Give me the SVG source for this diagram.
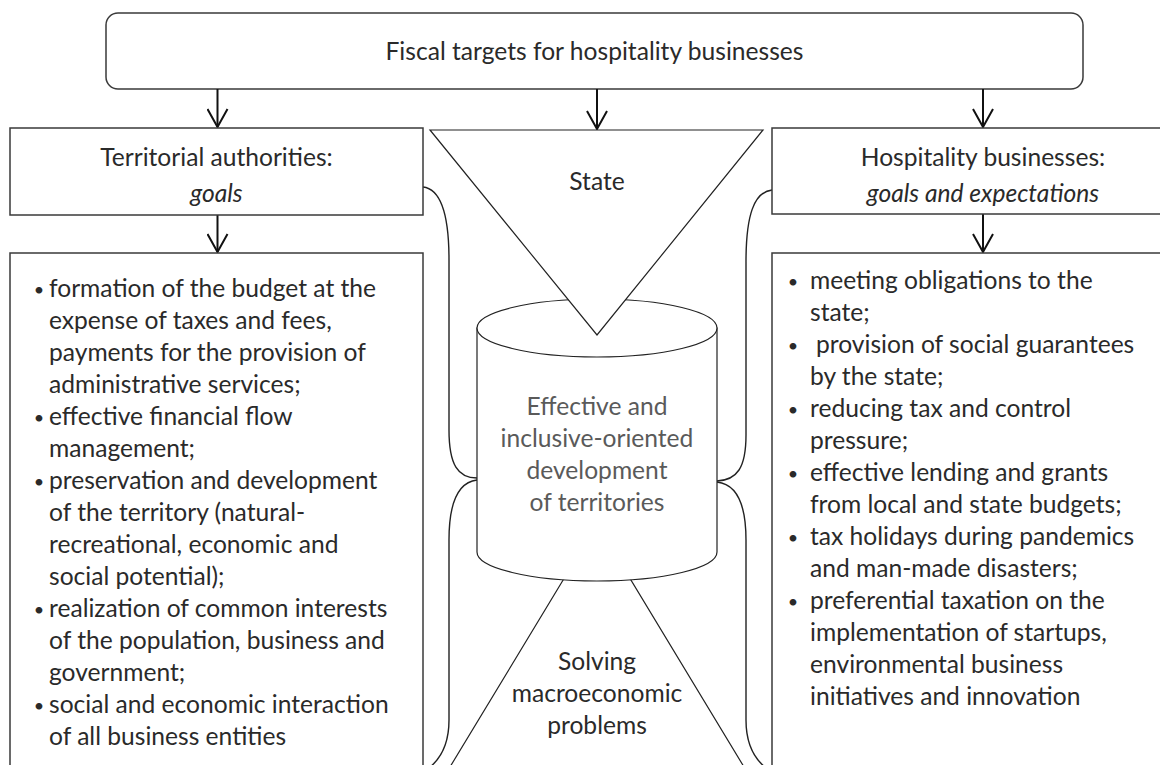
<svg xmlns="http://www.w3.org/2000/svg" width="1160" height="765" viewBox="0 0 1160 765">
<defs>
<style>
.box{fill:#fff;stroke:#3a3a3a;stroke-width:1.5}
.shape{fill:#fff;stroke:#222;stroke-width:1.2}
.curve{fill:none;stroke:#222;stroke-width:1.4}
.arr{fill:none;stroke:#111;stroke-width:2}
text{font-family:Lato,"Liberation Sans",sans-serif;font-size:24.6px;fill:#2a2a2a}
.c{text-anchor:middle}
.i{font-style:italic}
.g{fill:#5a5a5a}
.b{text-anchor:middle;font-size:18px}
</style>
<marker id="ah" viewBox="0 0 20 22" refX="19" refY="11" markerWidth="20" markerHeight="22" markerUnits="userSpaceOnUse" orient="auto">
<path d="M1,1 L19,11 L1,21" fill="none" stroke="#111" stroke-width="2"/>
</marker>
</defs>
<rect width="1160" height="765" fill="#fff"/>

<g id="connectors">
<path class="curve" d="M423,187 C441,189 449,215 449,260 L449,430 C449,465 458,478 477,478"/>
<path class="curve" d="M477,480 C460,482 449,500 449,540 L449,720 C449,745 440,762 423,772"/>
<path class="curve" d="M772,190 C754,192 746,215 746,262 L746,435 C746,468 737,480 717,481"/>
<path class="curve" d="M717,482 C735,484 746,500 746,540 L746,720 C746,745 755,762 772,772"/>
</g>

<g id="top">
<rect class="box" x="106" y="13" width="977" height="76" rx="12"/>
<text class="c" x="594.5" y="60">Fiscal targets for hospitality businesses</text>
</g>

<g id="arrows">
<line class="arr" x1="217.5" y1="89" x2="217.5" y2="127" marker-end="url(#ah)"/>
<line class="arr" x1="597" y1="89" x2="597" y2="129" marker-end="url(#ah)"/>
<line class="arr" x1="983" y1="89" x2="983" y2="127" marker-end="url(#ah)"/>
<line class="arr" x1="217.5" y1="215" x2="217.5" y2="252" marker-end="url(#ah)"/>
<line class="arr" x1="983" y1="214" x2="983" y2="252" marker-end="url(#ah)"/>
</g>

<g id="territorial">
<rect class="box" x="10" y="128" width="413" height="87"/>
<text class="c" x="216.5" y="166">Territorial authorities:</text>
<text class="c i" x="216.5" y="202">goals</text>
</g>

<g id="hospitality">
<rect class="box" x="772" y="128" width="423" height="86"/>
<text class="c" x="983" y="166">Hospitality businesses:</text>
<text class="c i" x="983" y="202">goals and expectations</text>
</g>

<g id="solving">
<polygon class="shape" points="597,524 430,800 764,800"/>
<text class="c" x="597" y="670">Solving</text>
<text class="c" x="597" y="702">macroeconomic</text>
<text class="c" x="597" y="734">problems</text>
</g>

<g id="development">
<path class="shape" d="M477,328 L477,552 A120,29 0 0 0 717,552 L717,328 Z"/>
<ellipse class="shape" cx="597" cy="328" rx="120" ry="29"/>
<text class="c g" x="597" y="415">Effective and</text>
<text class="c g" x="597" y="447">inclusive-oriented</text>
<text class="c g" x="597" y="479">development</text>
<text class="c g" x="597" y="511">of territories</text>
</g>

<g id="state">
<polygon class="shape" points="430,130 763,130 597,335"/>
<text class="c" x="597" y="190">State</text>
</g>

<g id="territorial-goals">
<rect class="box" x="10" y="253" width="413" height="540"/>
<text class="b" x="39" y="296">•</text><text x="49" y="297">formation of the budget at the</text>
<text x="49" y="329">expense of taxes and fees,</text>
<text x="49" y="361">payments for the provision of</text>
<text x="49" y="393">administrative services;</text>
<text class="b" x="39" y="424">•</text><text x="49" y="425">effective financial flow</text>
<text x="49" y="457">management;</text>
<text class="b" x="39" y="488">•</text><text x="49" y="489">preservation and development</text>
<text x="49" y="521">of the territory (natural-</text>
<text x="49" y="553">recreational, economic and</text>
<text x="49" y="585">social potential);</text>
<text class="b" x="39" y="616">•</text><text x="49" y="617">realization of common interests</text>
<text x="49" y="649">of the population, business and</text>
<text x="49" y="681">government;</text>
<text class="b" x="39" y="712">•</text><text x="49" y="713">social and economic interaction</text>
<text x="49" y="745">of all business entities</text>
</g>

<g id="hospitality-goals">
<rect class="box" x="772" y="253" width="423" height="540"/>
<text class="b" x="793" y="288">•</text><text x="810" y="289">meeting obligations to the</text>
<text x="810" y="321">state;</text>
<text class="b" x="793" y="352">•</text><text x="816" y="353">provision of social guarantees</text>
<text x="810" y="385">by the state;</text>
<text class="b" x="793" y="416">•</text><text x="810" y="417">reducing tax and control</text>
<text x="810" y="449">pressure;</text>
<text class="b" x="793" y="480">•</text><text x="810" y="481">effective lending and grants</text>
<text x="810" y="513">from local and state budgets;</text>
<text class="b" x="793" y="544">•</text><text x="810" y="545">tax holidays during pandemics</text>
<text x="810" y="577">and man-made disasters;</text>
<text class="b" x="793" y="608">•</text><text x="810" y="609">preferential taxation on the</text>
<text x="810" y="641">implementation of startups,</text>
<text x="810" y="673">environmental business</text>
<text x="810" y="705">initiatives and innovation</text>
</g>
</svg>
